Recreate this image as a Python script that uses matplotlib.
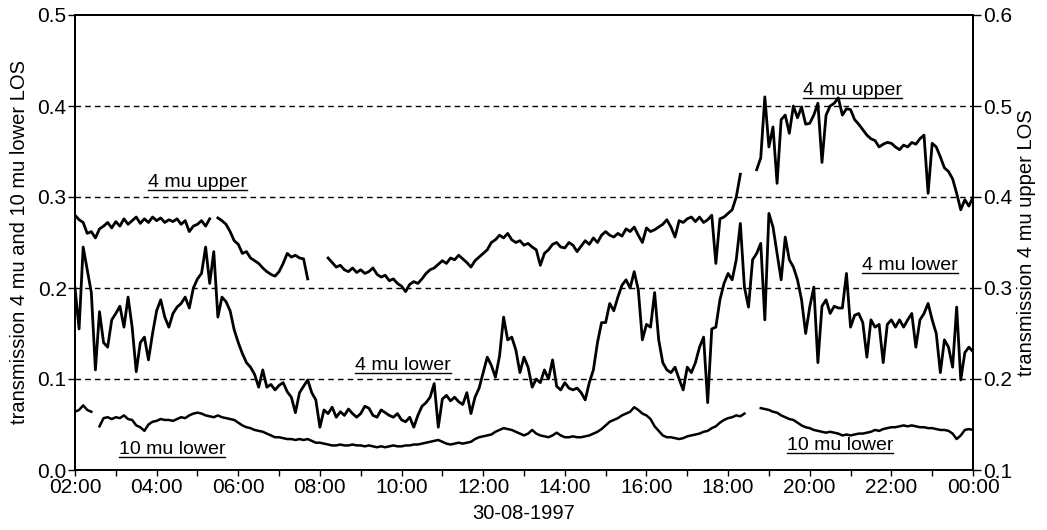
import matplotlib
matplotlib.use("Agg")
import matplotlib.pyplot as plt
import matplotlib.ticker as ticker
from matplotlib.lines import Line2D
from matplotlib.transforms import IdentityTransform
import numpy as np

plt.rcParams["font.family"] = ["Liberation Sans", "DejaVu Sans"]

# time axis: 02:00 .. 24:00 (00:00 next day), one sample every 6 minutes
HOURS = np.round(np.arange(2.0, 24.05, 0.1), 1)
nan = np.nan

# 4 mu upper LOS (right axis)
UPPER_4MU = [
    0.380, 0.375, 0.372, 0.360, 0.362, 0.355, 0.365, 0.368, 0.372, 0.366,
    0.373, 0.368, 0.376, 0.370, 0.374, 0.378, 0.371, 0.376, 0.372, 0.378,
    0.374, 0.377, 0.372, 0.375, 0.373, 0.376, 0.370, 0.374, 0.362, 0.368,
    0.370, 0.374, 0.368, 0.376, nan,   0.377, 0.374, 0.370, 0.362, 0.352,
    0.348, 0.338, 0.340, 0.333, 0.330, 0.327, 0.322, 0.318, 0.315, 0.313,
    0.318, 0.327, 0.338, 0.334, 0.336, 0.333, 0.332, 0.310, nan,   nan,
    nan,   nan,   0.333, 0.328, 0.323, 0.325, 0.320, 0.318, 0.322, 0.317,
    0.320, 0.316, 0.318, 0.322, 0.315, 0.312, 0.314, 0.308, 0.310, 0.305,
    0.302, 0.296, 0.304, 0.307, 0.305, 0.310, 0.316, 0.320, 0.322, 0.326,
    0.330, 0.327, 0.333, 0.331, 0.336, 0.332, 0.328, 0.323, 0.330, 0.334,
    0.338, 0.342, 0.350, 0.353, 0.358, 0.355, 0.360, 0.353, 0.350, 0.352,
    0.347, 0.349, 0.345, 0.342, 0.325, 0.338, 0.342, 0.348, 0.350, 0.345,
    0.344, 0.350, 0.347, 0.340, 0.346, 0.352, 0.348, 0.355, 0.350, 0.358,
    0.362, 0.358, 0.356, 0.360, 0.357, 0.365, 0.362, 0.367, 0.358, 0.350,
    0.366, 0.362, 0.364, 0.367, 0.370, 0.375, 0.367, 0.356, 0.374, 0.372,
    0.376, 0.378, 0.373, 0.378, 0.372, 0.375, 0.380, 0.327, 0.376, 0.378,
    0.382, 0.386, 0.400, 0.425, nan,   nan,   nan,   0.430, 0.443, 0.510,
    0.455, 0.477, 0.415, 0.485, 0.490, 0.470, 0.500, 0.487, 0.499, 0.480,
    0.481, 0.490, 0.503, 0.438, 0.490, 0.500, 0.503, 0.509, 0.490, 0.497,
    0.496, 0.485, 0.480, 0.474, 0.468, 0.464, 0.462, 0.455, 0.458, 0.460,
    0.459, 0.455, 0.452, 0.457, 0.455, 0.460, 0.458, 0.464, 0.468, 0.404,
    0.459, 0.455, 0.444, 0.432, 0.428, 0.420, 0.404, 0.386, 0.397, 0.390,
    0.400,
]

# 4 mu lower LOS (left axis)
LOWER_4MU = [
    0.200, 0.155, 0.245, 0.220, 0.195, 0.110, 0.174, 0.140, 0.135, 0.165,
    0.172, 0.180, 0.157, 0.190, 0.157, 0.108, 0.140, 0.146, 0.121, 0.150,
    0.175, 0.187, 0.168, 0.157, 0.172, 0.179, 0.183, 0.190, 0.178, 0.200,
    0.210, 0.216, 0.245, 0.205, 0.240, 0.168, 0.190, 0.185, 0.175, 0.154,
    0.140, 0.128, 0.118, 0.113, 0.105, 0.091, 0.110, 0.091, 0.094, 0.088,
    0.093, 0.096, 0.086, 0.080, 0.063, 0.085, 0.092, 0.099, 0.085, 0.077,
    0.047, 0.066, 0.062, 0.069, 0.058, 0.064, 0.060, 0.067, 0.062, 0.058,
    0.062, 0.070, 0.068, 0.060, 0.058, 0.066, 0.063, 0.060, 0.058, 0.062,
    0.055, 0.053, 0.058, 0.047, 0.060, 0.070, 0.074, 0.080, 0.095, 0.047,
    0.078, 0.082, 0.076, 0.080, 0.075, 0.072, 0.085, 0.062, 0.080, 0.090,
    0.107, 0.124, 0.115, 0.102, 0.125, 0.168, 0.143, 0.146, 0.132, 0.107,
    0.124, 0.113, 0.091, 0.100, 0.096, 0.110, 0.100, 0.121, 0.092, 0.088,
    0.096, 0.090, 0.088, 0.090, 0.085, 0.077, 0.096, 0.110, 0.140, 0.162,
    0.162, 0.183, 0.175, 0.190, 0.203, 0.209, 0.200, 0.218, 0.198, 0.143,
    0.160, 0.157, 0.195, 0.143, 0.118, 0.110, 0.107, 0.113, 0.100, 0.088,
    0.113, 0.107, 0.118, 0.135, 0.146, 0.074, 0.155, 0.157, 0.187, 0.205,
    0.216, 0.209, 0.231, 0.271, 0.201, 0.179, 0.231, 0.238, 0.249, 0.165,
    0.282, 0.267, 0.238, 0.209, 0.256, 0.231, 0.223, 0.209, 0.187, 0.150,
    0.179, 0.201, 0.118, 0.180, 0.187, 0.172, 0.180, 0.178, 0.178, 0.216,
    0.157, 0.170, 0.172, 0.162, 0.124, 0.165, 0.157, 0.160, 0.118, 0.160,
    0.165, 0.157, 0.165, 0.157, 0.165, 0.172, 0.135, 0.165, 0.172, 0.183,
    0.165, 0.150, 0.107, 0.143, 0.135, 0.113, 0.179, 0.099, 0.129, 0.135,
    0.130,
]

# 10 mu lower LOS (left axis)
LOWER_10MU = [
    0.064, 0.066, 0.071, 0.066, 0.064, nan,   0.048, 0.057, 0.058, 0.056,
    0.058, 0.057, 0.060, 0.056, 0.055, 0.049, 0.047, 0.043, 0.050, 0.053,
    0.054, 0.056, 0.055, 0.055, 0.054, 0.056, 0.058, 0.057, 0.060, 0.062,
    0.063, 0.062, 0.060, 0.059, 0.058, 0.060, 0.058, 0.057, 0.056, 0.055,
    0.052, 0.049, 0.047, 0.046, 0.044, 0.043, 0.042, 0.040, 0.038, 0.036,
    0.036, 0.035, 0.034, 0.034, 0.033, 0.034, 0.033, 0.034, 0.032, 0.030,
    0.030, 0.029, 0.028, 0.027, 0.027, 0.028, 0.027, 0.027, 0.028, 0.027,
    0.027, 0.026, 0.027, 0.026, 0.025, 0.026, 0.025, 0.026, 0.027, 0.026,
    0.026, 0.027, 0.027, 0.028, 0.028, 0.029, 0.030, 0.031, 0.032, 0.033,
    0.031, 0.029, 0.028, 0.029, 0.030, 0.029, 0.030, 0.031, 0.034, 0.036,
    0.037, 0.038, 0.039, 0.042, 0.044, 0.046, 0.045, 0.044, 0.042, 0.040,
    0.038, 0.040, 0.044, 0.040, 0.038, 0.037, 0.036, 0.038, 0.041, 0.038,
    0.036, 0.036, 0.037, 0.036, 0.036, 0.037, 0.038, 0.040, 0.042, 0.045,
    0.049, 0.053, 0.055, 0.057, 0.060, 0.062, 0.064, 0.069, 0.066, 0.062,
    0.060, 0.056, 0.048, 0.043, 0.038, 0.036, 0.036, 0.035, 0.034, 0.035,
    0.037, 0.038, 0.039, 0.040, 0.042, 0.043, 0.046, 0.048, 0.052, 0.055,
    0.057, 0.058, 0.060, 0.059, 0.062, nan,   nan,   nan,   0.068, 0.067,
    0.066, 0.064, 0.063, 0.060, 0.058, 0.056, 0.055, 0.052, 0.049, 0.047,
    0.046, 0.044, 0.043, 0.042, 0.041, 0.042, 0.041, 0.040, 0.038, 0.039,
    0.038, 0.039, 0.040, 0.040, 0.041, 0.042, 0.044, 0.043, 0.045, 0.046,
    0.047, 0.047, 0.048, 0.049, 0.048, 0.049, 0.048, 0.047, 0.047, 0.046,
    0.046, 0.045, 0.044, 0.044, 0.043, 0.040, 0.034, 0.038, 0.044, 0.045,
    0.044,
]

# series labels: (text, hour, left-axis value at baseline)
LABELS = [
    ("4 mu upper", 4.99, 0.311),
    ("4 mu upper", 21.06, 0.412),
    ("4 mu lower", 10.04, 0.110),
    ("4 mu lower", 22.46, 0.220),
    ("10 mu lower", 4.38, 0.0176),
    ("10 mu lower", 20.74, 0.022),
]
GRID_LEVELS = [0.1, 0.2, 0.3, 0.4]

fig = plt.figure(figsize=(10.47, 5.30), dpi=100)
ax = fig.add_axes([75 / 1047, 1 - 470 / 530, 898 / 1047, 455 / 530])
ax2 = ax.twinx()

ax.plot(HOURS, LOWER_4MU, color="black", lw=2.0)
ax.plot(HOURS, LOWER_10MU, color="black", lw=1.8)
ax2.plot(HOURS, UPPER_4MU, color="black", lw=2.0)

for lvl in GRID_LEVELS:
    ax.axhline(lvl, color="black", lw=1.0, ls=(0, (4, 3)), zorder=0)

ax.set_xlim(2, 24)
ax.set_ylim(0.0, 0.5)
ax2.set_ylim(0.1, 0.6)

ax.xaxis.set_major_locator(ticker.MultipleLocator(2))
ax.xaxis.set_minor_locator(ticker.MultipleLocator(1))
ax.xaxis.set_major_formatter(ticker.FuncFormatter(lambda h, _: f"{int(round(h)) % 24:02d}:00"))
ax.yaxis.set_major_locator(ticker.MultipleLocator(0.1))
ax.yaxis.set_major_formatter(ticker.FormatStrFormatter("%.1f"))
ax2.yaxis.set_major_locator(ticker.MultipleLocator(0.1))
ax2.yaxis.set_major_formatter(ticker.FormatStrFormatter("%.1f"))

ax.tick_params(axis="x", which="both", direction="out", length=4, width=1, pad=2, labelsize=15)
ax.tick_params(axis="y", direction="out", length=5, width=1, pad=1, labelsize=15)
ax2.tick_params(axis="y", direction="out", length=6, width=1, pad=1, labelsize=15)

for a in (ax, ax2):
    for sp in a.spines.values():
        sp.set_linewidth(1.4)

ax.set_xlabel("30-08-1997", fontsize=14.5, labelpad=5)
ax.set_ylabel("transmission 4 mu and 10 mu lower LOS", fontsize=14.5, labelpad=6)
ax2.set_ylabel("transmission 4 mu upper LOS", fontsize=14.5, labelpad=4)

texts = []
for txt, hx, vy in LABELS:
    t = ax.text(hx, vy, txt, ha="center", va="baseline", fontsize=14)
    texts.append((t, hx, vy))

# underline every series label
fig.canvas.draw()
renderer = fig.canvas.get_renderer()
for t, hx, vy in texts:
    bb = t.get_window_extent(renderer)
    base = ax.transData.transform((hx, vy))[1] - 3
    fig.add_artist(Line2D([bb.x0, bb.x1], [base, base], color="black", lw=1.0,
                          transform=IdentityTransform()))

fig.savefig("out.png", dpi=100)
